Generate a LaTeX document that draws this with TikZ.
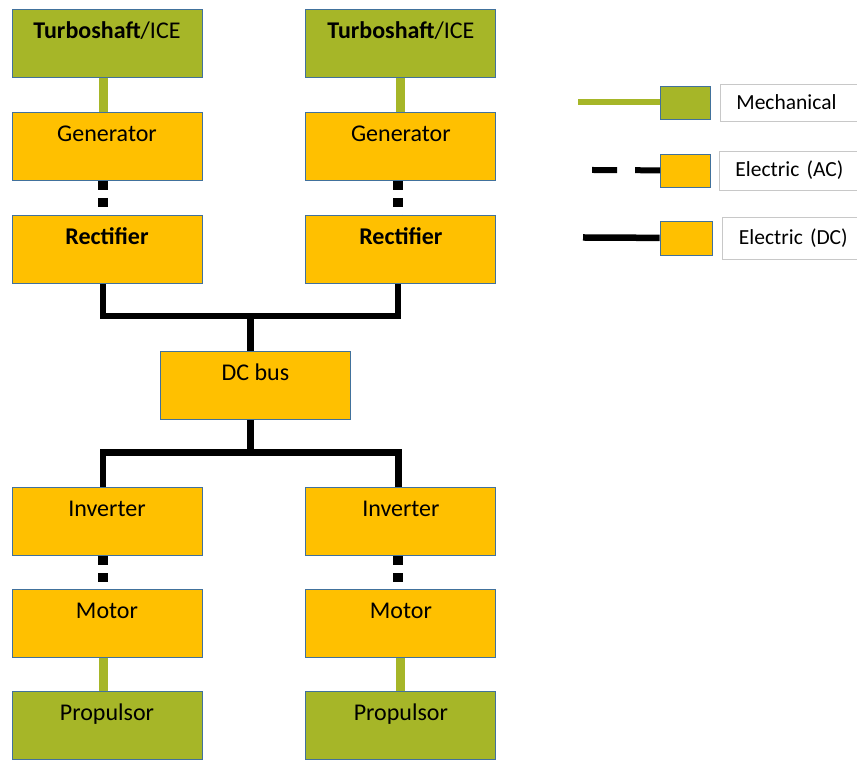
\documentclass[tikz,border=0pt]{standalone}
\usepackage{fontspec}
\setmainfont{Carlito}
\usepackage{tikz}
\usetikzlibrary{positioning,calc,backgrounds}
\definecolor{mechgreen}{RGB}{166,182,40}
\definecolor{elecgold}{RGB}{255,192,0}
\definecolor{edgeblue}{RGB}{65,113,156}
\definecolor{keygray}{RGB}{200,200,200}

\begin{document}
\begin{tikzpicture}
        \tikzstyle{unit}=[draw=edgeblue, line width=0.9pt, minimum width=190pt, minimum height=68pt, inner sep=0pt, text height=29pt, text depth=39pt, font=\fontsize{24}{28}\selectfont]
        \tikzstyle{mechunit}=[unit, fill=mechgreen]
        \tikzstyle{elecunit}=[unit, fill=elecgold]
        \tikzstyle{mech}=[draw=mechgreen, line width=9pt]
        \tikzstyle{ac}=[draw=black, line width=9.5pt, dash pattern=on 9pt off 8pt]
        \tikzstyle{dc}=[draw=black, line width=6.5pt]
        \tikzstyle{keybox}=[draw=edgeblue, line width=0.9pt, minimum width=50pt, minimum height=33pt]
        \tikzstyle{keytext}=[draw=keygray, line width=0.9pt, text width=125pt, align=left, inner xsep=16pt, minimum height=37pt, font=\fontsize{21.5}{25}\selectfont]

        \useasboundingbox (0,0) rectangle (857pt,760pt);

        \node[mechunit] (turbo1) at (107pt,716.5pt) {\textbf{Turboshaft}/ICE};
        \node[elecunit, below=34pt of turbo1] (gen1) {Generator};
        \node[elecunit, below=34pt of gen1] (rect1) {\textbf{Rectifier}};
        \node[mechunit, right=103pt of turbo1] (turbo2) {\textbf{Turboshaft}/ICE};
        \node[elecunit, below=34pt of turbo2] (gen2) {Generator};
        \node[elecunit, below=34pt of gen2] (rect2) {\textbf{Rectifier}};

        \coordinate (r1) at ([xshift=-4pt]rect1.south);
        \coordinate (r2) at ([xshift=-3pt]rect2.south);
        \coordinate (mid) at ($(r1)!.5!(r2)$);
        \node[elecunit, below=67pt of mid, xshift=5pt] (dcbus) {DC bus};

        \coordinate (lowL) at (rect1.south |- dcbus.south);
        \node[elecunit, below=67.5pt of lowL] (inv1) {Inverter};
        \node[elecunit, below=33pt of inv1] (mot1) {Motor};
        \node[mechunit, below=33pt of mot1] (prop1) {Propulsor};
        \node[elecunit, right=103pt of inv1] (inv2) {Inverter};
        \node[elecunit, below=33pt of inv2] (mot2) {Motor};
        \node[mechunit, below=33pt of mot2] (prop2) {Propulsor};

        \begin{scope}[on background layer]
        \draw[mech] ([xshift=-4pt]turbo1.south) -- ([xshift=-4pt]gen1.north);
        \draw[mech] (turbo2.south) -- (gen2.north);
        \draw[ac] ([xshift=-4pt]gen1.south) -- ([xshift=-4pt]rect1.north);
        \draw[ac] ([xshift=-3pt]gen2.south) -- ([xshift=-3pt]rect2.north);
        \draw[dc] (r1) |- ([yshift=-32.5pt]mid) -| (r2);
        \draw[dc] ([yshift=-32.5pt]mid) -- (mid |- dcbus.north);
        \draw[dc] (mid |- dcbus.south) -- ++(0,-33pt) coordinate (fork);
        \draw[dc] ([xshift=-4pt]inv1.north) |- (fork) -| ([xshift=-2.5pt]inv2.north);
        \draw[ac] ([xshift=-4pt]inv1.south) -- ([xshift=-4pt]mot1.north);
        \draw[ac] ([xshift=-3pt]inv2.south) -- ([xshift=-3pt]mot2.north);
        \draw[mech] ([xshift=-4pt]mot1.south) -- ([xshift=-4pt]prop1.north);
        \draw[mech] (mot2.south) -- (prop2.north);
        \end{scope}

        % legend
        \node[keybox, fill=mechgreen] (keyMech) at (685.5pt,657.5pt) {};
        \node[keytext, right=9pt of keyMech] (lblMech) {Mechanical};
        \coordinate (endMech) at (578pt,657.5pt);
        \draw[mechgreen, line width=6pt] (keyMech) -- (endMech);

        \node[keybox, fill=elecgold] (keyAC) at (685.5pt,589.5pt) {};
        \node[keytext, right=8pt of keyAC, minimum height=39pt] (lblAC) {Electric (AC)};
        \coordinate (endAC) at (592pt,590pt);
        \draw[black, line width=6pt, dash pattern=on 25pt off 18pt] (keyAC) -- (endAC);

        \node[keybox, fill=elecgold, minimum width=52pt, minimum height=34pt] (keyDC) at (686pt,522pt) {};
        \node[keytext, right=10pt of keyDC, minimum height=42pt] (lblDC) {Electric (DC)};
        \coordinate (endDC) at (583pt,522.5pt);
        \draw[black, line width=6.5pt] (keyDC) -- (endDC);
    \end{tikzpicture}
\end{document}
